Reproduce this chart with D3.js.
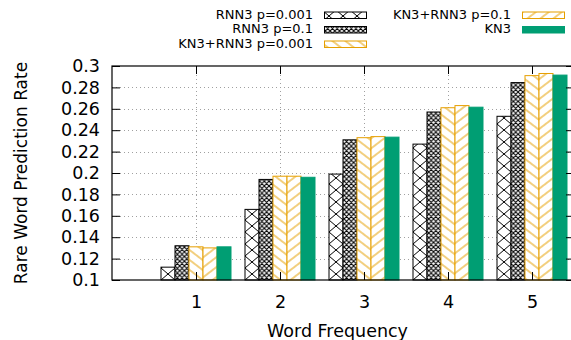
<!DOCTYPE html>
<html>
<head>
<meta charset="utf-8">
<script src="https://cdn.jsdelivr.net/npm/d3@7"></script>
<style>
  body { margin: 0; background: #fff; }
  text { font-family: "DejaVu Sans", sans-serif; fill: #000; }
</style>
</head>
<body>
<svg id="chart" width="571" height="340"></svg>
<script>
// data
const categories = [1, 2, 3, 4, 5];
const seriesNames = ['RNN3 p=0.001', 'RNN3 p=0.1', 'KN3+RNN3 p=0.001', 'KN3+RNN3 p=0.1', 'KN3'];
const rnn3P001 = [0.112, 0.166, 0.199, 0.227, 0.253];
const rnn3P01 = [0.132, 0.194, 0.231, 0.257, 0.2845];
const kn3Rnn3P001 = [0.131, 0.197, 0.233, 0.261, 0.291];
const kn3Rnn3P01 = [0.130, 0.197, 0.234, 0.263, 0.293];
const kn3 = [0.131, 0.196, 0.2335, 0.2615, 0.2915];
const yTicks = [0.1, 0.12, 0.14, 0.16, 0.18, 0.2, 0.22, 0.24, 0.26, 0.28, 0.3];
const xTicks = [1, 2, 3, 4, 5];

const series = [rnn3P001, rnn3P01, kn3Rnn3P001, kn3Rnn3P01, kn3];
const orange = '#e69f00';
const green = '#009e73';
const styles = [
  {fill: 'url(#pBigCross)', stroke: '#000'},
  {fill: 'url(#pDenseCross)', stroke: '#000'},
  {fill: 'url(#pBack)', stroke: orange},
  {fill: 'url(#pFwd)', stroke: orange},
  {fill: green, stroke: green}
];

const margin = {top: 66, right: -3, bottom: 60, left: 112};
const svg = d3.select('#chart');
const width = +svg.attr('width');
const height = +svg.attr('height');

const x = d3.scaleLinear().domain([0, 5.5]).range([margin.left, width - margin.right]);
const y = d3.scaleLinear().domain([0.1, 0.3]).range([height - margin.bottom, margin.top]);
const barW = 1 / 6;

// fill patterns
const defs = svg.append('defs');
function crossPattern(id, w, h, sw, x0) {
  const p = defs.append('pattern').attr('id', id).attr('patternUnits', 'userSpaceOnUse')
    .attr('x', x0).attr('y', y(0.1)).attr('width', w).attr('height', h);
  p.append('rect').attr('width', w).attr('height', h).attr('fill', '#fff');
  p.append('path')
    .attr('d', `M0,0L${w},${h}M${w},0L0,${h}M${-w},0L0,${h}M${w},${-h}L${2 * w},0M0,${-h}L${-w},0M${2 * w},${h}L${w},${2 * h}`)
    .attr('stroke', '#000').attr('stroke-width', sw).attr('fill', 'none');
}
function linePattern(id, angle, gap) {
  const p = defs.append('pattern').attr('id', id).attr('patternUnits', 'userSpaceOnUse')
    .attr('width', 40).attr('height', gap)
    .attr('patternTransform', `rotate(${angle})`);
  p.append('rect').attr('width', 40).attr('height', gap).attr('fill', '#fff');
  p.append('line').attr('x1', 0).attr('x2', 40).attr('y1', gap / 2).attr('y2', gap / 2)
    .attr('stroke', orange).attr('stroke-width', 1);
}
crossPattern('pBigCross', 14, 12, 1, x(1 - 2.5 * barW));
crossPattern('pDenseCross', 4.7, 4.7, 1.1, x(1 - 1.5 * barW));
linePattern('pBack', 37.5, 7.9);
linePattern('pFwd', -37.5, 7.9);

// grid
const grid = svg.append('g').attr('stroke', '#a0a0a0').attr('stroke-width', 1)
  .attr('stroke-dasharray', '1,3');
grid.selectAll('.gy').data(yTicks.slice(1, -1)).enter().append('line')
  .attr('x1', x(0)).attr('x2', x(5.5))
  .attr('y1', d => Math.round(y(d)) + 0.5).attr('y2', d => Math.round(y(d)) + 0.5);
grid.selectAll('.gx').data(xTicks).enter().append('line')
  .attr('x1', d => Math.round(x(d)) + 0.5).attr('x2', d => Math.round(x(d)) + 0.5)
  .attr('y1', y(0.1)).attr('y2', y(0.3));

// bars
series.forEach((vals, i) => {
  svg.append('g').selectAll('rect').data(vals).enter().append('rect')
    .attr('x', (d, j) => x(categories[j] + (i - 2.5) * barW))
    .attr('width', x(barW) - x(0))
    .attr('y', d => y(d))
    .attr('height', d => y(0.1) - y(d))
    .attr('fill', styles[i].fill)
    .attr('stroke', styles[i].stroke)
    .attr('stroke-width', 1);
});

// axes
const tickLen = 8;
svg.append('g').attr('transform', `translate(${margin.left},0)`)
  .call(d3.axisLeft(y).tickValues(yTicks).tickSize(-tickLen).tickPadding(12)
    .tickFormat(d => String(+d.toFixed(2))));
svg.append('g').attr('transform', `translate(${width - margin.right},0)`)
  .call(d3.axisRight(y).tickValues(yTicks).tickSize(-tickLen).tickFormat(''));
svg.append('g').attr('transform', `translate(0,${height - margin.bottom})`)
  .call(d3.axisBottom(x).tickValues(xTicks).tickSize(-tickLen).tickPadding(16)
    .tickFormat(d3.format('d')));
svg.append('g').attr('transform', `translate(0,${margin.top})`)
  .call(d3.axisTop(x).tickValues(xTicks).tickSize(-tickLen).tickFormat(''));
svg.selectAll('.domain').remove();
svg.selectAll('.tick text').attr('font-size', 17.5).attr('font-family', '"DejaVu Sans", sans-serif');
svg.selectAll('.tick line').attr('stroke', '#000');

svg.append('rect')
  .attr('x', x(0)).attr('y', y(0.3))
  .attr('width', x(5.5) - x(0)).attr('height', y(0.1) - y(0.3))
  .attr('fill', 'none').attr('stroke', '#000').attr('stroke-width', 1.2);

// axis titles
svg.append('text').attr('x', (x(0) + width) / 2 - 4).attr('y', 337)
  .attr('text-anchor', 'middle').attr('font-size', 17.5).text('Word Frequency');
svg.append('text').attr('transform', `translate(27,${(y(0.1) + y(0.3)) / 2}) rotate(-90)`)
  .attr('text-anchor', 'middle').attr('font-size', 17).text('Rare Word Prediction Rate');

// legend
const legendPos = [
  {tx: 313, bx: 324, by: 18.5},
  {tx: 313, bx: 324, by: 33},
  {tx: 313, bx: 324, by: 47.5},
  {tx: 511, bx: 522, by: 18.5},
  {tx: 511, bx: 522, by: 33}
];
const legend = svg.append('g').selectAll('g').data(seriesNames).enter().append('g');
legend.append('text')
  .attr('x', (d, i) => legendPos[i].tx).attr('y', (d, i) => legendPos[i].by)
  .attr('text-anchor', 'end').attr('font-size', 13).text(d => d);
legend.append('rect')
  .attr('x', (d, i) => legendPos[i].bx + 0.5).attr('y', (d, i) => legendPos[i].by - 6.5)
  .attr('width', 42).attr('height', 6.5)
  .attr('fill', (d, i) => styles[i].fill)
  .attr('stroke', (d, i) => styles[i].stroke).attr('stroke-width', 1);
</script>
</body>
</html>
